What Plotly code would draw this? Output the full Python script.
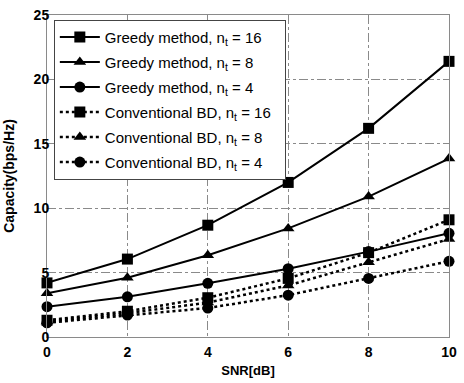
import plotly.graph_objects as go

snr = [0, 2, 4, 6, 8, 10]
greedy_16 = [4.2, 6.05, 8.68, 12.0, 16.2, 21.4]
greedy_8 = [3.4, 4.6, 6.35, 8.43, 10.9, 13.85]
greedy_4 = [2.35, 3.12, 4.17, 5.3, 6.63, 8.05]
conv_16 = [1.3, 2.0, 3.05, 4.55, 6.55, 9.1]
conv_8 = [1.2, 1.85, 2.67, 4.0, 5.8, 7.6]
conv_4 = [1.1, 1.7, 2.25, 3.25, 4.55, 5.88]

names = [
    "Greedy method, n<sub>t</sub> = 16",
    "Greedy method, n<sub>t</sub> = 8",
    "Greedy method, n<sub>t</sub> = 4",
    "Conventional BD, n<sub>t</sub> = 16",
    "Conventional BD, n<sub>t</sub> = 8",
    "Conventional BD, n<sub>t</sub> = 4",
]
series = [greedy_16, greedy_8, greedy_4, conv_16, conv_8, conv_4]
symbols = ["square", "triangle-up", "circle", "square", "triangle-up", "circle"]
dashes = ["solid", "solid", "solid", "dot", "dot", "dot"]

fig = go.Figure()
for i, (name, ys, sym, dash) in enumerate(zip(names, series, symbols, dashes)):
    fig.add_trace(go.Scatter(
        x=snr, y=ys, name=name + "&nbsp;&nbsp;", mode="lines+markers",
        legendgroup="g%d" % i,
        line=dict(color="black", width=2 if dash == "solid" else 2.5, dash=dash),
        marker=dict(symbol=sym, size=11, color="black"),
        cliponaxis=False,
    ))

axis_common = dict(
    showgrid=True, gridcolor="#8a8a8a", griddash="dashdot", gridwidth=1,
    showline=True, linecolor="#8a8a8a", linewidth=1, mirror=True,
    zeroline=False, ticks="", color="black", ticklabeloverflow="allow",
    tickfont=dict(family="Liberation Sans, Arial", size=14, color="black", weight="bold"),
)

fig.update_layout(
    width=464, height=383,
    margin=dict(l=47, r=7, t=14, b=36),
    paper_bgcolor="white", plot_bgcolor="white",
    font=dict(family="Liberation Sans, Arial", color="black"),
    showlegend=True,
    legend=dict(
        x=0.017, y=0.985, xanchor="left", yanchor="top",
        bgcolor="white", bordercolor="#444", borderwidth=1,
        font=dict(size=15, color="black"),
        itemwidth=40, traceorder="grouped", tracegroupgap=2.5,
    ),
    xaxis=dict(range=[0, 10], tickvals=[0, 2, 4, 6, 8, 10], ticklabelstandoff=2,
               title=dict(text="SNR[dB]", font=dict(size=13, weight="bold"), standoff=7),
               **axis_common),
    yaxis=dict(range=[0, 25], tickvals=[0, 5, 10, 15, 20, 25], ticklabelstandoff=-6,
               title=dict(text="Capacity(bps/Hz)", font=dict(size=14, weight="bold"), standoff=15),
               **axis_common),
)

fig.write_html(
    "out.html",
    config={"displayModeBar": False},
    post_script="document.body.style.margin='0';document.body.style.overflow='hidden';",
)
